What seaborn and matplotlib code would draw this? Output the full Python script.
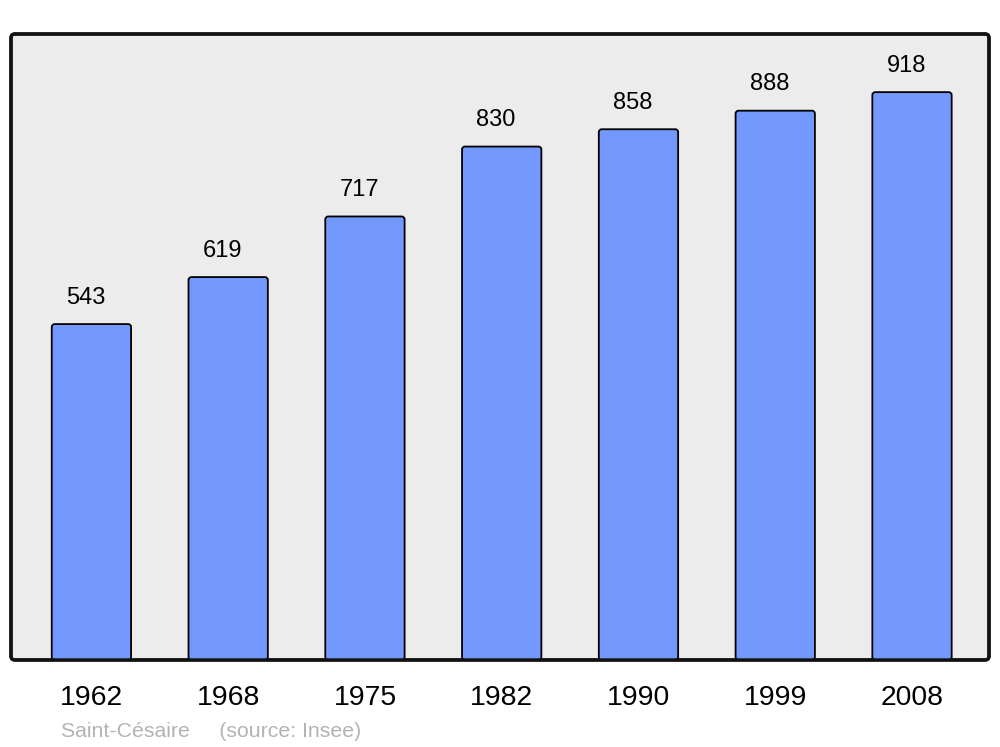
import numpy as np
import pandas as pd
import matplotlib
matplotlib.use("Agg")
import matplotlib.pyplot as plt
from matplotlib.patches import FancyBboxPatch
import seaborn as sns

sns.set_style("white")
plt.rcParams["font.family"] = ["Liberation Sans", "DejaVu Sans"]

years = ["1962", "1968", "1975", "1982", "1990", "1999", "2008"]
population = [543, 619, 717, 830, 858, 888, 918]

df = pd.DataFrame({"year": years, "pop": population})

bar_color = "#7399ff"
bg_color = "#ececec"

fig = plt.figure(figsize=(10, 7.47), dpi=100)
ax = fig.add_axes([0.011, 0.1165, 0.978, 0.838])

sns.barplot(data=df, x="year", y="pop", color=bar_color, width=0.58,
            edgecolor="black", linewidth=1.3, saturation=1, ax=ax, zorder=3)

ax.set_xlim(-0.588, 6.563)
ax.set_ylim(0, 1012)

# swap plain rectangles for slightly rounded ones
px_x = 978 / (6.563 + 0.588)
px_y = 626 / 1012
r = 3 / px_x
for p in list(ax.patches):
    x0, w, h = p.get_x(), p.get_width(), p.get_height()
    fb = FancyBboxPatch((x0, 0), w, h,
                        boxstyle=f"round,pad=0,rounding_size={r}",
                        mutation_aspect=(3 / px_y) / r,
                        facecolor=bar_color, edgecolor="black",
                        linewidth=1.3, zorder=3)
    p.remove()
    ax.add_patch(fb)
    ax.annotate(f"{int(h)}", (x0 + w / 2, h), xytext=(-4, 19),
                textcoords="offset points", ha="center", va="center",
                fontsize=17, color="black")

# rounded frame
ax.patch.set_visible(False)
for s in ax.spines.values():
    s.set_visible(False)
frame = FancyBboxPatch((0, 0), 1, 1, transform=ax.transAxes,
                       boxstyle=f"round,pad=0,rounding_size={4/978}",
                       mutation_aspect=978 / 626,
                       facecolor=bg_color, edgecolor="#111111",
                       linewidth=2.4, zorder=0, clip_on=False)
ax.add_patch(frame)
edge = FancyBboxPatch((0, 0), 1, 1, transform=ax.transAxes,
                      boxstyle=f"round,pad=0,rounding_size={4/978}",
                      mutation_aspect=978 / 626,
                      facecolor="none", edgecolor="#111111",
                      linewidth=2.4, zorder=5, clip_on=False)
ax.add_patch(edge)

ax.set_xlabel("")
ax.set_ylabel("")
ax.set_yticks([])
ax.tick_params(axis="x", length=0, pad=18, labelsize=20.4, labelcolor="black")

fig.text(0.061, 0.008, "Saint-Césaire     (source: Insee)", fontsize=15.3,
         color="#b3b3b3", ha="left", va="bottom")

plt.savefig("out.png", dpi=100)
plt.close()
